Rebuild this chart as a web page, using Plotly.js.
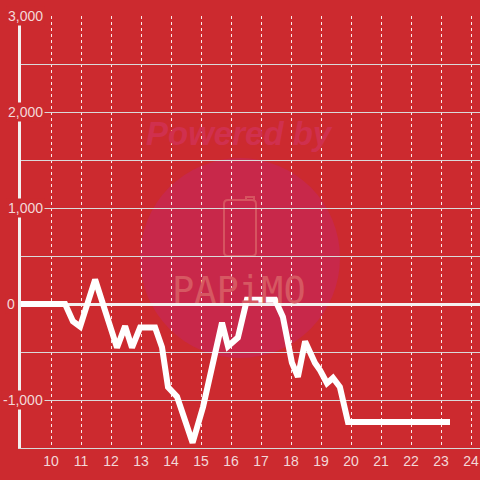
<!DOCTYPE html>
<html>
<head>
<meta charset="utf-8">
<script src="https://cdn.plot.ly/plotly-3.0.1.min.js"></script>
<style>html,body{margin:0;padding:0;background:#CC2A2F;}#chart{width:480px;height:480px;}</style>
</head>
<body>
<div id="chart"></div>
<script>
// Time of day (hours)
const times = [9, 10.47, 10.73, 10.97, 11.47, 12.2, 12.47, 12.7, 12.97, 13.47, 13.7, 13.9, 14.2, 14.47, 14.72, 15.07, 15.4, 15.7, 15.9, 16.23, 16.53, 17.47, 17.73, 18.03, 18.23, 18.47, 18.8, 18.97, 19.2, 19.4, 19.63, 19.9, 23.3];
// Value series
const values = [0, 0, -180, -235, 255, -455, -230, -455, -245, -245, -450, -865, -965, -1240, -1445, -1070, -585, -195, -440, -350, 45, 45, -135, -610, -760, -390, -615, -690, -825, -770, -865, -1230, -1230];
// Tick labels
const xTickVals = [10, 11, 12, 13, 14, 15, 16, 17, 18, 19, 20, 21, 22, 23, 24];
const xTickText = ['10', '11', '12', '13', '14', '15', '16', '17', '18', '19', '20', '21', '22', '23', '24'];
const yTickVals = [3000, 2000, 1000, 0, -1000];
const yTickText = ['3,000', '2,000', '1,000', '0', '-1,000'];

const BG = '#CC2A2F';
const LABEL = '#F3D8D8';
const FONT = 'Liberation Sans, Arial, sans-serif';

const trace = {
  x: times, y: values, type: 'scatter', mode: 'lines',
  line: {color: '#FFFFFF', width: 6, shape: 'linear'},
  hoverinfo: 'skip'
};

const yLabelAnns = yTickVals.map((v, i) => ({
  xref: 'paper', yref: 'y', x: 0, y: v,
  text: yTickText[i], showarrow: false,
  xanchor: 'right', yanchor: 'middle',
  xshift: v === 0 ? -4 : 24,
  bgcolor: BG, borderpad: 1,
  font: {family: FONT, size: 14, color: LABEL}
}));

const layout = {
  width: 480, height: 480,
  paper_bgcolor: BG, plot_bgcolor: BG,
  margin: {l: 21, r: 0, t: 16, b: 32},
  showlegend: false,
  font: {family: FONT, size: 14, color: LABEL},
  xaxis: {
    range: [9, 24.3],
    tickmode: 'array', tickvals: xTickVals, ticktext: xTickText,
    showgrid: true, gridcolor: 'rgba(255,255,255,0.9)', gridwidth: 1, griddash: 'dot',
    showline: true, linecolor: '#D8D8D8', linewidth: 1,
    zeroline: false, ticks: '', fixedrange: true,
    tickfont: {family: FONT, size: 14, color: LABEL}
  },
  yaxis: {
    range: [-1500, 3000.5],
    tickmode: 'linear', tick0: 0, dtick: 500,
    showticklabels: false,
    showgrid: true, gridcolor: '#DADADA', gridwidth: 1,
    showline: true, linecolor: '#F4F0F0', linewidth: 3,
    zeroline: true, zerolinecolor: '#F4F0F0', zerolinewidth: 3,
    ticks: '', fixedrange: true
  },
  shapes: [
    {type: 'circle', layer: 'below', xref: 'x', yref: 'y',
     xsizemode: 'pixel', ysizemode: 'pixel', xanchor: 16.3, yanchor: 479,
     x0: -100, x1: 100, y0: -100, y1: 100,
     fillcolor: '#C8284A', line: {width: 0}},
    {type: 'path', layer: 'below', xref: 'x', yref: 'y',
     xsizemode: 'pixel', ysizemode: 'pixel', xanchor: 16.3, yanchor: 792,
     path: 'M -12,-28 L 12,-28 Q 16,-28 16,-24 L 16,24 Q 16,28 12,28 L -12,28 Q -16,28 -16,24 L -16,-24 Q -16,-28 -12,-28 Z M 6,28 L 6,31 L 14,31 L 14,28',
     line: {color: '#D65460', width: 2}}
  ],
  annotations: [
    {xref: 'paper', yref: 'paper', x: 0.477, y: 0.727, text: '<b><i>Powered by</i></b>',
     showarrow: false, xanchor: 'center', yanchor: 'middle',
     font: {family: FONT, size: 33, color: '#D0304E'}},
    {xref: 'paper', yref: 'paper', x: 0.475, y: 0.364, text: 'PAPiMO',
     showarrow: false, xanchor: 'center', yanchor: 'middle',
     font: {family: 'DejaVu Sans Mono, monospace', size: 37, color: '#D65862'}}
  ].concat(yLabelAnns)
};

Plotly.newPlot('chart', [trace], layout, {displayModeBar: false, staticPlot: true});
</script>
</body>
</html>
